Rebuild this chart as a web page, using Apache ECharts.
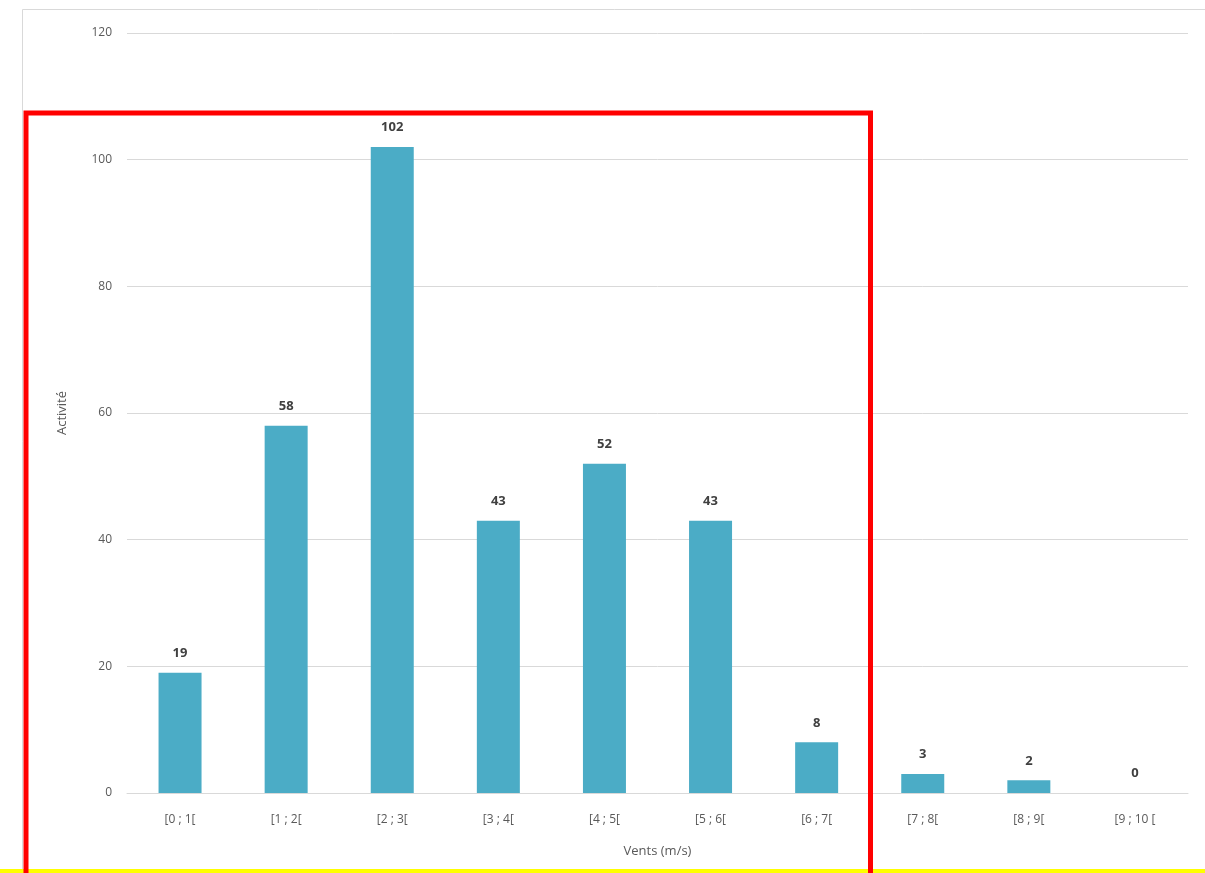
<!DOCTYPE html>
<html>
<head>
<meta charset="utf-8">
<script src="https://cdn.jsdelivr.net/npm/echarts@6/dist/echarts.min.js"></script>
<style>
  html, body { margin: 0; padding: 0; background: #ffffff; }
  #chart { width: 1205px; height: 873px; }
</style>
</head>
<body>
<div id="chart"></div>
<script>
// Wind-speed classes (m/s) and activity counted in each class
const categories = ['[0 ; 1[', '[1 ; 2[', '[2 ; 3[', '[3 ; 4[', '[4 ; 5[', '[5 ; 6[', '[6 ; 7[', '[7 ; 8[', '[8 ; 9[', '[9 ; 10 ['];
const activity = [19, 58, 102, 43, 52, 43, 8, 3, 2, 0];
const yTicks = { min: 0, max: 120, step: 20 };

const chart = echarts.init(document.getElementById('chart'), null, { renderer: 'canvas' });

const textFont = '"Open Sans", "Liberation Sans", sans-serif';

chart.setOption({
  animation: false,
  backgroundColor: '#ffffff',
  grid: { left: 127, right: 17, top: 33, bottom: 80, containLabel: false },
  xAxis: {
    type: 'category',
    data: categories,
    name: 'Vents (m/s)',
    nameLocation: 'middle',
    nameGap: 52,
    nameTextStyle: { color: '#595959', fontSize: 13, fontFamily: textFont },
    axisLine: { show: true, lineStyle: { color: '#d9d9d9', width: 1 } },
    axisTick: { show: false },
    axisLabel: { color: '#595959', fontSize: 12, margin: 21, fontFamily: textFont }
  },
  yAxis: {
    type: 'value',
    min: yTicks.min,
    max: yTicks.max,
    interval: yTicks.step,
    name: 'Activité',
    nameLocation: 'middle',
    nameGap: 58,
    nameRotate: 90,
    nameTextStyle: { color: '#595959', fontSize: 13, fontFamily: textFont },
    axisLine: { show: false },
    axisTick: { show: false },
    axisLabel: { color: '#595959', fontSize: 12, margin: 15, fontFamily: textFont },
    splitLine: { lineStyle: { color: '#d9d9d9', width: 1 } }
  },
  series: [{
    type: 'bar',
    data: activity,
    barWidth: 43,
    itemStyle: { color: '#4bacc6' },
    label: {
      show: true,
      position: 'top',
      distance: 13,
      color: '#404040',
      fontSize: 13,
      fontWeight: 'bold',
      fontFamily: textFont
    }
  }],
  graphic: [
    // chart frame
    {
      type: 'rect',
      shape: { x: 22.5, y: 9.5, width: 1200, height: 900 },
      style: { fill: 'none', stroke: '#d9d9d9', lineWidth: 1 },
      silent: true, z: 0
    },
    // red highlight box
    {
      type: 'rect',
      shape: { x: 26, y: 113, width: 844.5, height: 780 },
      style: { fill: 'none', stroke: '#ff0000', lineWidth: 5 },
      silent: true, z: 100
    },
    // yellow strip at the bottom
    {
      type: 'rect',
      shape: { x: 0, y: 869, width: 1205, height: 4 },
      style: { fill: '#ffff00' },
      silent: true, z: 99
    }
  ]
});
</script>
</body>
</html>
